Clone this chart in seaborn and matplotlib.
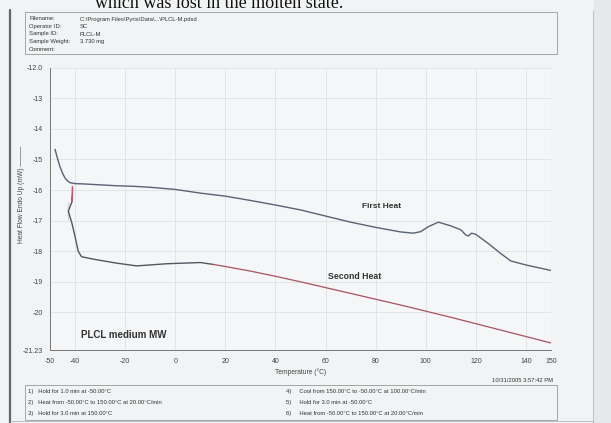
import pandas as pd
import matplotlib
matplotlib.use("Agg")
import matplotlib.pyplot as plt
import seaborn as sns
from matplotlib.lines import Line2D
from matplotlib.patches import Rectangle

# first heat curve (temperature in C, heat flow in mW)
first_t = [-48.0, -47, -46, -45, -44, -43, -42, -40, -36.7, -30, -23.4, -16, -10, 0, 10,
           20, 30, 40, 50, 60, 70, 80, 90, 95, 98, 101, 105, 110, 114, 116, 117, 118.3,
           120, 125, 130, 134, 140, 145, 150]
first_v = [-14.67, -14.97, -15.24, -15.45, -15.61, -15.70, -15.76, -15.79, -15.80, -15.83,
           -15.86, -15.88, -15.91, -15.98, -16.10, -16.20, -16.34, -16.49, -16.65, -16.85,
           -17.05, -17.22, -17.37, -17.41, -17.36, -17.20, -17.05, -17.17, -17.30, -17.47,
           -17.50, -17.41, -17.45, -17.75, -18.08, -18.32, -18.45, -18.54, -18.63]

# start-up spike of the second heat
spike_t = [-41.3, -41.1, -40.9, -41.2]
spike_v = [-16.38, -15.89, -15.95, -16.38]

# second heat, early part (grey)
second_a_t = [-41.2, -42.7, -42.7, -41.3, -40.0, -38.7, -37.4, -32.7, -23.4, -15.4, -3.4, 10, 15]
second_a_v = [-16.38, -16.40, -16.98, -17.07, -17.52, -18.01, -18.18, -18.26, -18.39, -18.48,
              -18.41, -18.37, -18.43]

# second heat, later part (red)
second_b_t = [15, 20, 30, 40, 50, 60, 70, 80, 90, 100, 110, 120, 130, 140, 150]
second_b_v = [-18.43, -18.50, -18.65, -18.82, -19.00, -19.19, -19.38, -19.57, -19.76,
              -19.96, -20.16, -20.37, -20.58, -20.79, -21.00]

x_ticks = [-50, -40, -20, 0, 20, 40, 60, 80, 100, 120, 140, 150]
y_ticks = [-12.0, -13, -14, -15, -16, -17, -18, -19, -20, -21.23]
y_ticklabels = ["-12.0", "-13", "-14", "-15", "-16", "-17", "-18", "-19", "-20", "-21.23"]

header_keys = ["Filename:", "Operator ID:", "Sample ID:", "Sample Weight:", "Comment:"]
header_vals = ["C:\\Program Files\\Pyris\\Data\\...\\PLCL-M.pdsd", "SC", "PLCL-M", "3.730 mg", ""]

steps_left = ["1)   Hold for 1.0 min at -50.00\u00b0C",
              "2)   Heat from -50.00\u00b0C to 150.00\u00b0C at 20.00\u00b0C/min",
              "3)   Hold for 3.0 min at 150.00\u00b0C"]
steps_right = ["4)     Cool from 150.00\u00b0C to -50.00\u00b0C at 100.00\u00b0C/min",
               "5)     Hold for 3.0 min at -50.00\u00b0C",
               "6)     Heat from -50.00\u00b0C to 150.00\u00b0C at 20.00\u00b0C/min"]

sns.set_theme(style="whitegrid")
plt.rcParams["font.family"] = ["Liberation Sans", "DejaVu Sans"]

W, H = 611, 423
fig = plt.figure(figsize=(W / 100, H / 100), dpi=100, facecolor="#f1f3f4")

def fx(x):
    return x / W

def fy(y):
    return 1 - y / H

# scanned page strip on the right
fig.add_artist(Rectangle((fx(594), 0), fx(W - 594), 1, transform=fig.transFigure,
                         facecolor="#e6e8e9", edgecolor="none", zorder=0))

ax = fig.add_axes([fx(50), fy(350), fx(501), (350 - 67.7) / H])
ax.set_facecolor("#f4f6f7")

sns.lineplot(data=pd.DataFrame({"t": first_t, "v": first_v}), x="t", y="v", sort=False,
             ax=ax, color="#5a6274", linewidth=1.0)
sns.lineplot(data=pd.DataFrame({"t": second_a_t, "v": second_a_v}), x="t", y="v", sort=False,
             ax=ax, color="#55555f", linewidth=1.0)
sns.lineplot(data=pd.DataFrame({"t": second_b_t, "v": second_b_v}), x="t", y="v", sort=False,
             ax=ax, color="#a8525f", linewidth=0.9)
sns.lineplot(data=pd.DataFrame({"t": spike_t, "v": spike_v}), x="t", y="v", sort=False,
             ax=ax, color="#c4566c", linewidth=0.8)

ax.set_xlim(-50, 150)
ax.set_ylim(-21.23, -12.0)
ax.set_xticks(x_ticks)
ax.set_xticklabels([str(t) for t in x_ticks])
ax.set_yticks(y_ticks)
ax.set_yticklabels(y_ticklabels)
ax.tick_params(labelsize=5, colors="#444444", length=2, width=0.5, pad=3)
ax.tick_params(axis="x", pad=4)
ax.grid(True, color="#dfe2e5", linewidth=0.6)
for side in ["top", "right"]:
    ax.spines[side].set_visible(False)
for side in ["left", "bottom"]:
    ax.spines[side].set_color("#777777")
    ax.spines[side].set_linewidth(0.7)

ax.set_xlabel("Temperature (\u00b0C)", fontsize=4.8, color="#444444", labelpad=2)
ax.set_ylabel("Heat Flow Endo Up (mW) \u2014\u2014\u2014", fontsize=4.8, color="#444444", labelpad=10)
ax.yaxis.set_label_coords(-0.05, 0.55)

ax.text(82.4, -16.54, "First Heat", fontsize=6, fontweight="bold", color="#333333",
        ha="center", va="center")
ax.text(71.6, -18.84, "Second Heat", fontsize=6.3, fontweight="bold", color="#333333",
        ha="center", va="center")
ax.text(-37.6, -20.73, "PLCL medium MW", fontsize=7, fontweight="bold", color="#333333",
        ha="left", va="center")

# cut-off line of the surrounding document
fig.text(fx(95), fy(8), "which was lost in the molten state.", fontsize=13,
         family=["Liberation Serif", "DejaVu Serif"], color="#111111", va="baseline")

# page frame
fig.add_artist(Line2D([fx(10), fx(10)], [fy(10), fy(423)], transform=fig.transFigure,
                      color="#666666", linewidth=1.6))
fig.add_artist(Line2D([fx(593), fx(593)], [fy(10), fy(423)], transform=fig.transFigure,
                      color="#b5b8ba", linewidth=0.6))
fig.add_artist(Line2D([fx(10), fx(593)], [fy(421), fy(421)], transform=fig.transFigure,
                      color="#b5b8ba", linewidth=0.6))

# header box
fig.add_artist(Rectangle((fx(25), fy(54)), fx(532), (54 - 12) / H, transform=fig.transFigure,
                         facecolor="none", edgecolor="#999999", linewidth=0.6))
for i, (k, v) in enumerate(zip(header_keys, header_vals)):
    y = 19 + i * 7.5
    fig.text(fx(29), fy(y), k, fontsize=4.2, color="#333333", va="center")
    fig.text(fx(80), fy(y), v, fontsize=4.2, color="#333333", va="center")

# date stamp
fig.text(fx(553), fy(380), "10/31/2005 3:57:42 PM", fontsize=4.2, color="#333333",
         ha="right", va="center")

# method steps box
fig.add_artist(Rectangle((fx(25), fy(420)), fx(532), (420 - 385) / H, transform=fig.transFigure,
                         facecolor="none", edgecolor="#999999", linewidth=0.6))
for i, (a, b) in enumerate(zip(steps_left, steps_right)):
    y = 391 + i * 11
    fig.text(fx(28), fy(y), a, fontsize=4.2, color="#333333", va="center")
    fig.text(fx(286), fy(y), b, fontsize=4.2, color="#333333", va="center")

fig.savefig("out.png", dpi=100, facecolor=fig.get_facecolor())
